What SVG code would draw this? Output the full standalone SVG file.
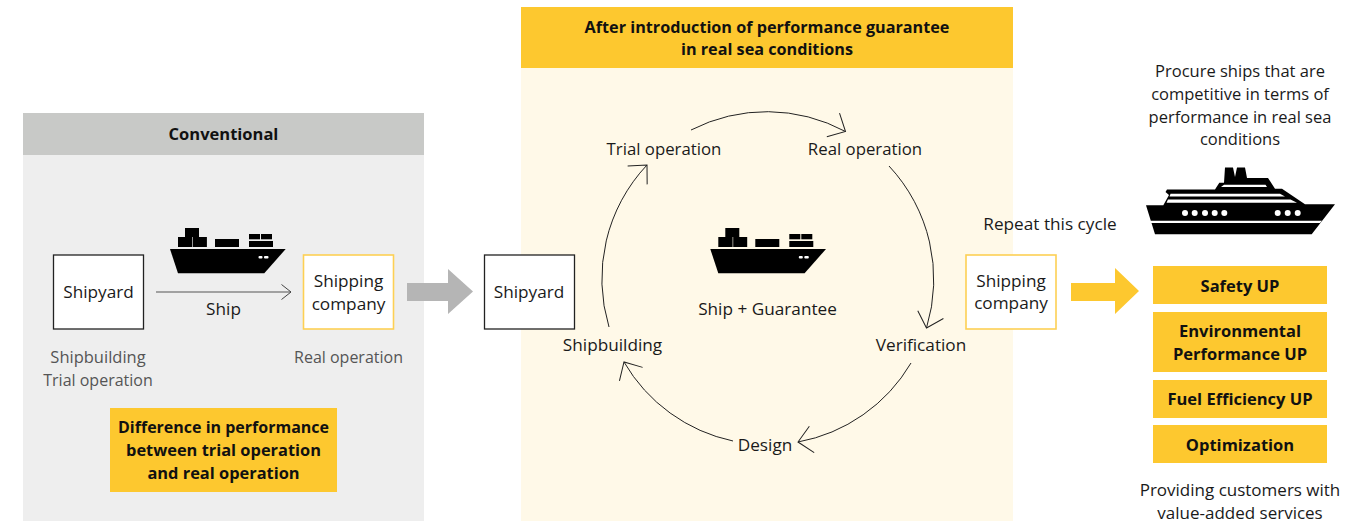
<svg xmlns="http://www.w3.org/2000/svg" width="1368" height="521" viewBox="0 0 1368 521">
<style>
text{font-family:"Open Sans","Noto Sans","Liberation Sans",sans-serif;font-size:16.5px;fill:#1a1a1a;text-anchor:middle}
.b{font-weight:700;font-size:16.5px;fill:#111}
.h{font-weight:700;font-size:16.2px;fill:#111}
.d{font-weight:700;font-size:16px;fill:#111}
.e{font-weight:700;font-size:16.4px;fill:#111}
.g{fill:#555;font-size:16px}
.g2{fill:#555;font-size:16.5px}
.n{font-size:17.2px}
.c{font-size:16.8px}
.p{font-size:17px}
.y{fill:#fdc82f}
.box{fill:#fff;stroke-width:1.3}
.k{stroke:#222}
.o{stroke:#fdd054;stroke-width:1.6}
.arc{fill:none;stroke:#222;stroke-width:1;marker-end:url(#chev)}
</style>
<defs>
<marker id="chev" markerUnits="userSpaceOnUse" markerWidth="32" markerHeight="32" refX="16" refY="16" orient="auto" viewBox="0 0 32 32" overflow="visible"><path d="M2,2.6L16,16L2,29.4" fill="none" stroke="#222" stroke-width="1"/></marker>
<marker id="chevs" markerUnits="userSpaceOnUse" markerWidth="20" markerHeight="20" refX="10" refY="10" orient="auto" viewBox="0 0 20 20" overflow="visible"><path d="M0.5,2.5L10,10L0.5,17.5" fill="none" stroke="#444" stroke-width="1"/></marker>
<g id="cargo">
<path d="M170,249H285.7L264.3,273.3H178Z"/>
<rect x="178" y="237" width="14.3" height="10"/><rect x="192.9" y="237" width="14" height="10"/><rect x="185" y="228" width="14" height="9"/>
<rect x="215" y="239" width="24" height="8"/>
<rect x="249" y="234" width="11" height="5.3"/><rect x="261" y="234" width="11" height="5.3"/><rect x="249" y="241" width="24" height="6"/>
<rect x="258.500" y="256" width="4" height="2.4" rx="1" fill="#fff"/><rect x="264" y="256" width="4.500" height="2.4" rx="1" fill="#fff"/>
</g>
</defs>
<g id="conventional-panel">
<rect x="23" y="113" width="401" height="408" fill="#eeeeee"/>
<rect x="23" y="113" width="401" height="42" fill="#c8c9c7"/>
<text class="b" x="223.500" y="140">Conventional</text>
</g>
<g id="guarantee-panel">
<rect x="521" y="7" width="492" height="514" fill="#fff9e8"/>
<rect class="y" x="521" y="7" width="492" height="61"/>
<text class="h" x="767" y="33">After introduction of performance guarantee</text>
<text class="h" x="767" y="55">in real sea conditions</text>
</g>
<g id="connectors">
<path d="M156,292H291" fill="none" stroke="#555" stroke-width="1" marker-end="url(#chevs)"/>
<path class="arc" d="M691,130A166,166 0 0 1 845.500,131.500"/>
<path class="arc" d="M889,166A166,166 0 0 1 926.500,328"/>
<path class="arc" d="M911,363A166,166 0 0 1 798,442"/>
<path class="arc" d="M733,441A166,166 0 0 1 624,362"/>
<path class="arc" d="M609,327A166,166 0 0 1 647,165"/>
<path d="M407,283H448V269L473,291.500L448,314V301H407Z" fill="#b5b5b5"/>
<path d="M1071,283H1115V268L1139,291L1115,314V301H1071Z" fill="#fdc82f"/>
</g>
<g id="shipyard-1"><rect class="box k" x="53.500" y="255" width="90" height="74"/><text class="n" x="98.500" y="297.500">Shipyard</text></g>
<g id="shipping-company-1"><rect class="box o" x="303.500" y="255" width="90" height="74"/><text class="n" x="348.500" y="287">Shipping</text><text class="n" x="348.500" y="310">company</text></g>
<g id="ship-1"><use href="#cargo"/><text class="n" x="223.500" y="315">Ship</text></g>
<g id="notes-1">
<text class="g2" x="98" y="363">Shipbuilding</text><text class="g" x="98" y="386">Trial operation</text>
<text class="g" x="348.500" y="363">Real operation</text>
</g>
<g id="difference"><rect class="y" x="110" y="408" width="227" height="84"/>
<text class="d" x="223.500" y="433">Difference in performance</text><text class="e" x="223.500" y="456">between trial operation</text><text class="e" x="223.500" y="479">and real operation</text></g>
<g id="shipyard-2"><rect class="box k" x="484.500" y="255" width="90" height="74"/><text class="n" x="529" y="297.500">Shipyard</text></g>
<g id="trial-operation"><text class="c" x="664" y="155">Trial operation</text></g>
<g id="real-operation"><text class="c" x="865" y="155">Real operation</text></g>
<g id="verification"><text class="n" x="921" y="350.500">Verification</text></g>
<g id="design"><text class="n" x="765" y="451">Design</text></g>
<g id="shipbuilding"><text class="n" x="612.500" y="350.500">Shipbuilding</text></g>
<g id="ship-2"><use href="#cargo" x="540.300"/><text class="n" x="767.500" y="315">Ship + Guarantee</text></g>
<g id="shipping-company-2"><rect class="box o" x="966" y="255" width="90" height="74"/><text class="n" x="1011" y="287">Shipping</text><text class="n" x="1011" y="309">company</text></g>
<text class="n" x="1050" y="230">Repeat this cycle</text>
<g id="procure">
<text x="1240" y="77">Procure ships that are</text><text x="1240" y="100">competitive in terms of</text><text x="1240" y="123">performance in real sea</text><text x="1240" y="145">conditions</text>
</g>
<g id="cruise-ship">
<path d="M1146,205.300H1163.300L1169,195L1165.500,192L1167,189.500H1215L1219.300,182.700H1224L1225,167.500H1233L1235,177L1237,167.500H1245L1247,178H1268L1275,188.700H1282L1305,204.300H1335L1311.700,234.300H1155Z"/>
<g fill="#fff"><path d="M1221,187L1267,187L1265.500,184.700L1224,184.700Z"/><path d="M1170.500,193.800H1280L1285,196.500H1169.500Z"/><path d="M1168,199.500H1290.500L1297,202.700H1166.500Z"/><path d="M1150.500,220.800H1322L1320,223H1151Z"/>
<circle cx="1185" cy="213" r="3"/><circle cx="1194.700" cy="213" r="3"/><circle cx="1205" cy="213" r="3"/><circle cx="1214.700" cy="213" r="3"/><circle cx="1224.300" cy="213" r="3"/><circle cx="1277.700" cy="213" r="3"/><circle cx="1287.700" cy="213" r="3"/><circle cx="1297.700" cy="213" r="3"/></g>
</g>
<g id="safety"><rect class="y" x="1153" y="266" width="174" height="38"/><text class="b" x="1240" y="292">Safety UP</text></g>
<g id="environmental"><rect class="y" x="1153" y="312" width="174" height="60"/><text class="b" x="1240" y="337">Environmental</text><text class="b" x="1240" y="360">Performance UP</text></g>
<g id="fuel"><rect class="y" x="1153" y="380" width="174" height="38"/><text class="b" x="1240" y="405">Fuel Efficiency UP</text></g>
<g id="optimization"><rect class="y" x="1153" y="425" width="174" height="38"/><text class="b" x="1240" y="451">Optimization</text></g>
<g id="providing"><text class="p" x="1240" y="496">Providing customers with</text><text class="p" x="1240" y="518.500">value-added services</text></g>
</svg>
